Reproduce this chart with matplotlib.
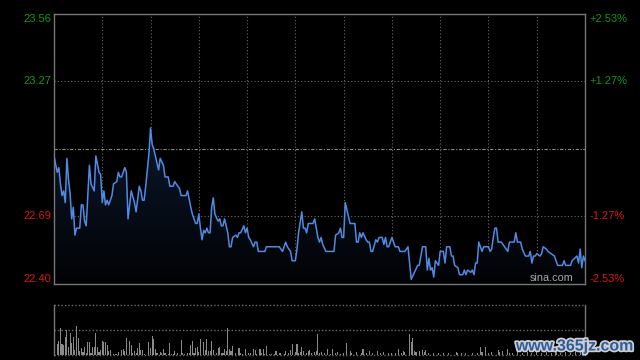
import matplotlib
matplotlib.use('Agg')
import matplotlib.pyplot as plt
import numpy as np
from matplotlib import patheffects
from matplotlib.colors import LinearSegmentedColormap

# intraday minutes from the open and last price
minutes = [0, 2, 3, 4, 5, 6, 7, 8, 9, 10, 11, 12, 13, 14, 16, 17, 18, 19, 20, 22,
           23, 25, 26, 28, 29, 30, 31, 32, 33, 34, 36, 37, 39, 40, 41, 42, 44, 45, 46, 48,
           50, 51, 53, 54, 55, 56, 57, 59, 60, 61, 62, 63, 64, 65, 66, 68, 69, 71, 72, 74,
           75, 77, 78, 79, 82, 83, 85, 86, 87, 88, 89, 90, 91, 92, 93, 94, 95, 96, 97, 98,
           99, 100, 102, 103, 104, 105, 106, 108, 109, 110, 111, 113, 114, 115, 116, 118, 119, 120, 121, 122,
           124, 125, 126, 127, 131, 132, 140, 142, 144, 145, 147, 148, 150, 151, 152, 154, 155, 156, 157, 158,
           160, 161, 162, 163, 164, 165, 166, 167, 169, 174, 175, 177, 178, 179, 180, 181, 182, 184, 187, 188,
           189, 190, 191, 192, 194, 195, 196, 197, 198, 200, 201, 202, 204, 205, 206, 207, 208, 210, 212, 214,
           215, 218, 220, 221, 222, 224, 226, 227, 229, 231, 232, 233, 234, 235, 236, 237, 238, 239, 240, 242,
           243, 244, 246, 247, 248, 249, 251, 252, 254, 255, 256, 257, 259, 260, 261, 262, 263, 264, 266, 267,
           270, 271, 272, 273, 274, 275, 276, 278, 280, 282, 283, 286, 287, 288, 290, 291, 293, 295, 296, 297,
           298, 299, 300, 302, 303, 304, 306, 307, 309, 311, 313, 316, 317, 318, 321, 322, 325, 326, 327, 328,
           329, 330]
prices = [22.95, 22.88, 22.90, 22.83, 22.78, 22.80, 22.75, 22.94, 22.85, 22.79, 22.68, 22.73, 22.61, 22.64, 22.64, 22.74, 22.74, 22.67, 22.65, 22.91,
          22.83, 22.80, 22.95, 22.88, 22.87, 22.75, 22.80, 22.74, 22.76, 22.74, 22.78, 22.83, 22.84, 22.88, 22.86, 22.86, 22.90, 22.88, 22.68, 22.80,
          22.75, 22.71, 22.82, 22.80, 22.76, 22.76, 22.82, 22.96, 23.07, 23.00, 22.98, 22.95, 22.92, 22.89, 22.94, 22.91, 22.86, 22.86, 22.82, 22.82,
          22.84, 22.82, 22.81, 22.78, 22.78, 22.80, 22.73, 22.70, 22.68, 22.66, 22.66, 22.70, 22.64, 22.59, 22.63, 22.62, 22.64, 22.62, 22.62, 22.73,
          22.77, 22.70, 22.67, 22.68, 22.65, 22.65, 22.68, 22.62, 22.56, 22.56, 22.60, 22.61, 22.60, 22.62, 22.62, 22.65, 22.62, 22.64, 22.60, 22.59,
          22.56, 22.58, 22.58, 22.54, 22.54, 22.56, 22.56, 22.54, 22.58, 22.56, 22.54, 22.50, 22.50, 22.55, 22.62, 22.71, 22.64, 22.64, 22.62, 22.66,
          22.66, 22.66, 22.68, 22.64, 22.60, 22.58, 22.60, 22.57, 22.54, 22.54, 22.61, 22.62, 22.64, 22.60, 22.60, 22.75, 22.72, 22.66, 22.66, 22.58,
          22.58, 22.62, 22.60, 22.62, 22.59, 22.58, 22.58, 22.54, 22.54, 22.59, 22.58, 22.60, 22.60, 22.57, 22.60, 22.56, 22.56, 22.60, 22.56, 22.56,
          22.54, 22.54, 22.56, 22.49, 22.42, 22.45, 22.48, 22.48, 22.56, 22.56, 22.46, 22.51, 22.46, 22.47, 22.43, 22.50, 22.49, 22.48, 22.54, 22.54,
          22.49, 22.56, 22.56, 22.52, 22.52, 22.48, 22.47, 22.44, 22.44, 22.46, 22.44, 22.46, 22.45, 22.46, 22.44, 22.49, 22.49, 22.58, 22.54, 22.56,
          22.56, 22.54, 22.55, 22.60, 22.64, 22.64, 22.58, 22.58, 22.56, 22.54, 22.58, 22.58, 22.62, 22.58, 22.58, 22.55, 22.52, 22.52, 22.54, 22.49,
          22.52, 22.52, 22.53, 22.52, 22.53, 22.56, 22.55, 22.54, 22.53, 22.52, 22.48, 22.48, 22.50, 22.48, 22.48, 22.50, 22.52, 22.49, 22.55, 22.47,
          22.52, 22.50]

vol_minutes = [0, 2, 3, 4, 5, 6, 7, 8, 9, 10, 11, 12, 13, 14, 15, 16, 17, 18, 19, 20,
               21, 22, 23, 24, 25, 26, 27, 28, 29, 30, 31, 32, 33, 34, 35, 37, 38, 39, 40, 42,
               43, 44, 45, 47, 48, 49, 50, 51, 52, 53, 54, 55, 56, 59, 60, 61, 62, 63, 64, 66,
               67, 68, 69, 71, 72, 73, 74, 75, 77, 79, 80, 81, 83, 84, 85, 86, 87, 88, 89, 90,
               91, 93, 94, 95, 96, 97, 98, 99, 101, 102, 103, 104, 105, 106, 107, 108, 109, 110, 111, 113,
               115, 116, 117, 119, 121, 122, 124, 125, 126, 128, 129, 130, 131, 132, 134, 135, 137, 138, 140, 141,
               143, 144, 146, 147, 148, 150, 151, 152, 153, 154, 155, 157, 158, 159, 160, 162, 163, 164, 165, 166,
               168, 170, 172, 173, 175, 176, 178, 180, 182, 184, 185, 188, 191, 192, 194, 196, 198, 201, 203, 205,
               208, 210, 212, 214, 216, 217, 218, 221, 222, 223, 224, 225, 227, 229, 230, 231, 233, 236, 239, 242,
               245, 250, 251, 253, 256, 260, 263, 265, 266, 268, 270, 272, 276, 277, 279, 282, 283, 285, 288, 291,
               294, 297, 300, 303, 306, 309, 312, 315, 318, 321, 324, 327, 330]
volumes = [100, 22, 28, 54, 22, 20, 36, 50, 16, 44, 24, 36, 10, 58, 34, 8, 14, 6, 16, 4,
           26, 26, 4, 16, 16, 44, 16, 6, 10, 28, 26, 26, 20, 8, 10, 2, 2, 2, 6, 10,
           12, 8, 34, 28, 20, 4, 8, 4, 14, 24, 10, 10, 2, 26, 14, 38, 32, 12, 4, 6,
           4, 12, 4, 2, 24, 2, 2, 8, 4, 30, 4, 2, 4, 4, 20, 28, 4, 14, 16, 6,
           32, 26, 10, 32, 8, 8, 28, 10, 4, 14, 16, 4, 4, 12, 8, 54, 12, 8, 18, 4,
           14, 4, 2, 12, 4, 4, 12, 10, 2, 12, 4, 12, 2, 18, 2, 2, 2, 8, 4, 4,
           2, 8, 4, 10, 22, 6, 22, 4, 6, 16, 8, 4, 8, 10, 4, 6, 8, 42, 4, 6,
           4, 12, 2, 12, 4, 6, 2, 4, 24, 8, 4, 6, 4, 12, 4, 8, 4, 8, 4, 6,
           4, 4, 4, 12, 4, 8, 6, 42, 26, 34, 8, 6, 8, 10, 6, 10, 4, 4, 4, 4,
           4, 6, 4, 4, 4, 4, 4, 16, 6, 16, 4, 6, 10, 6, 8, 12, 4, 4, 6, 4,
           6, 4, 8, 4, 6, 4, 6, 4, 6, 4, 8, 6, 14]

levels = [23.56, 23.27, 22.69, 22.40]
price_labels = ['23.56', '23.27', '22.69', '22.40']
pct_labels = ['+2.53%', '+1.27%', '-1.27%', '-2.53%']
prev_close = 22.98

GREEN = '#119a11'
RED = '#d81414'
FRAME = '#767676'
GRID = '#6a6a6a'

plt.rcParams['font.family'] = ['Liberation Sans', 'DejaVu Sans']

fig = plt.figure(figsize=(6.4, 3.6), dpi=100, facecolor='black')
ax = fig.add_axes([54 / 640, 76 / 360, 531 / 640, 270 / 360])
axv = fig.add_axes([54 / 640, 5 / 360, 531 / 640, 50 / 360])

for a in (ax, axv):
    a.set_facecolor('black')
    a.set_xlim(0, 330)
    a.set_xticks([])
    a.set_yticks([])

ax.set_ylim(levels[-1], levels[0])
for s in ax.spines.values():
    s.set_color(FRAME)
    s.set_linewidth(1.0)

# grid
for m in range(30, 330, 30):
    ax.axvline(m, color=GRID, lw=0.8, ls=(0, (1, 2)), zorder=0)
for lv in levels[1:3]:
    ax.axhline(lv, color=GRID, lw=0.8, ls=(0, (1, 2)), zorder=0)
ax.axhline(prev_close, color='#8a8a8a', lw=0.8, ls=(0, (3, 1.5, 1, 1.5)), zorder=0)

# gradient area under the price line
poly = ax.fill_between(minutes, prices, levels[-1], color='none', lw=0)
cmap = LinearSegmentedColormap.from_list('fill', ['#010204', '#15284a'])
grad = np.linspace(1, 0, 256).reshape(-1, 1)
im = ax.imshow(grad, extent=[0, 330, levels[-1], levels[0]], aspect='auto',
               cmap=cmap, origin='upper', zorder=1)
im.set_clip_path(poly.get_paths()[0], transform=ax.transData)
ax.set_xlim(0, 330)
ax.set_ylim(levels[-1], levels[0])

ax.plot(minutes, prices, color='#4f8be3', lw=1.1, zorder=3)

# axis labels
vas = ['top', 'center', 'center', 'bottom']
for lv, lab, pct, va in zip(levels, price_labels, pct_labels, vas):
    c = GREEN if lv > prev_close else RED
    ax.text(-0.006, lv, lab, transform=ax.get_yaxis_transform(), ha='right', va=va,
            color=c, fontsize=8)
    ax.text(1.009, lv, pct, transform=ax.get_yaxis_transform(), ha='left', va=va,
            color=c, fontsize=8)

ax.text(0.978, 0.004, 'sina.com', transform=ax.transAxes, ha='right', va='bottom',
        color='#a8a8a8', fontsize=7.8)

# volume panel
axv.set_ylim(0, 100)
axv.bar(vol_minutes, volumes, width=0.7, color='#8a8a8a', lw=0, zorder=2)
for s in ('top', 'bottom'):
    axv.spines[s].set_visible(False)
for s in ('left', 'right'):
    axv.spines[s].set_color(FRAME)
    axv.spines[s].set_linewidth(1.0)
for lv in (100, 50, 0):
    axv.axhline(lv, color=GRID, lw=1.0, ls=(0, (1, 1.5)), zorder=1, clip_on=False)

fig.text(575 / 640, 14 / 360, 'www.365jz.com', ha='center', va='center',
         fontsize=11.5, fontweight='bold', color='#2d5c9e',
         path_effects=[patheffects.withStroke(linewidth=2.5, foreground='#cfcfcf')])

fig.savefig('out.png', dpi=100, facecolor='black')
